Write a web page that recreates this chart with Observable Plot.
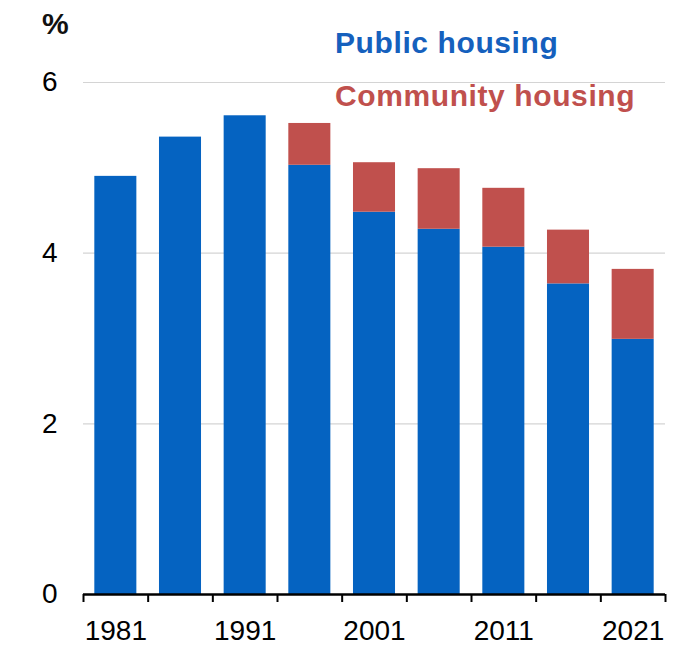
<!DOCTYPE html>
<html>
<head>
<meta charset="utf-8">
<script src="https://cdn.jsdelivr.net/npm/d3@7"></script>
<script src="https://cdn.jsdelivr.net/npm/@observablehq/plot@0.6"></script>
<style>
  html, body { margin: 0; padding: 0; background: #fff; }
  #wrap { position: relative; width: 700px; height: 670px; font-family: "Liberation Sans", Arial, sans-serif; }
  .lab { position: absolute; white-space: nowrap; line-height: 1; }
</style>
</head>
<body>
<div id="wrap">
  <div class="lab" id="unit" style="left:42px; top:9px; font-size:30px; font-weight:bold; color:#111;">%</div>
  <div class="lab" id="leg1" style="left:335px; top:28px; font-size:30px; font-weight:bold; letter-spacing:0.6px; color:#1560bd;">Public housing</div>
  <div class="lab" id="leg2" style="left:335px; top:81px; font-size:30px; font-weight:bold; letter-spacing:0.6px; color:#c0504d;">Community housing</div>
</div>
<script>
const years = [1981, 1986, 1991, 1996, 2001, 2006, 2011, 2016, 2021];
const publicHousing = [4.90, 5.36, 5.61, 5.03, 4.48, 4.28, 4.07, 3.64, 2.99];
const communityHousing = [0, 0, 0, 0.49, 0.58, 0.71, 0.69, 0.63, 0.82];
const yTicks = [0, 2, 4, 6];
const xLabelYears = [1981, 1991, 2001, 2011, 2021];

const rows = years.map((year, i) => ({
  year,
  pub: publicHousing[i],
  com: communityHousing[i]
}));

const half = 1.625;     // half bar width in years
const step = 5;
const edges = years.map(y => y - step / 2).concat([years[years.length - 1] + step / 2]);

const chart = Plot.plot({
  width: 700,
  height: 670,
  marginLeft: 83,
  marginRight: 35,
  marginTop: 82,
  marginBottom: 76,
  style: { fontFamily: "'Liberation Sans', Arial, sans-serif", background: "transparent", overflow: "visible" },
  x: { domain: [edges[0], edges[edges.length - 1]], axis: null, label: null },
  y: { domain: [0, 6], axis: null, label: null },
  marks: [
    Plot.gridY(yTicks.filter(t => t > 0), { stroke: "#d4d4d4", strokeOpacity: 1, strokeWidth: 1.2 }),
    Plot.rect(rows, { x1: d => d.year - half, x2: d => d.year + half, y1: 0, y2: "pub", fill: "#0563c1" }),
    Plot.rect(rows.filter(d => d.com > 0), { x1: d => d.year - half, x2: d => d.year + half, y1: "pub", y2: d => d.pub + d.com, fill: "#c0504d" }),
    Plot.ruleY([0], { stroke: "#000", strokeWidth: 2.5 }),
    Plot.axisY({ ticks: yTicks, tickSize: 0, tickPadding: 26, fontSize: 28, tickFormat: d3.format("d"), color: "#000", label: null }),
    Plot.axisX({ ticks: edges, tickSize: 8, tickFormat: () => "", strokeWidth: 2, color: "#000", label: null }),
    Plot.axisX({ ticks: xLabelYears, tickSize: 0, tickPadding: 26, fontSize: 28, tickFormat: d3.format("d"), color: "#000", label: null })
  ]
});
chart.style.position = "absolute";
chart.style.left = "0";
chart.style.top = "0";
document.getElementById("wrap").prepend(chart);
</script>
</body>
</html>
